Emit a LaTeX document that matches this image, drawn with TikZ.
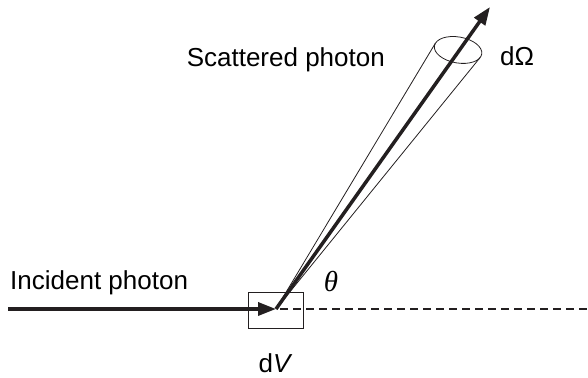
\documentclass[tikz,border=0pt]{standalone}
\usepackage{fontspec}
\setmainfont{Liberation Sans}
\newfontfamily\anglefont{Liberation Serif}
\usetikzlibrary{positioning,arrows.meta}
\definecolor{PhotonInk}{HTML}{231F20}

\begin{document}
\begin{tikzpicture}[x=1pt,y=1pt,font=\fontsize{26}{30}\selectfont,
    photon/.style={PhotonInk,line width=3.5pt,-{Triangle[length=18pt,width=13pt]}},
    thinline/.style={PhotonInk,line width=0.8pt}]
  \useasboundingbox (0,0) rectangle (588,377);
  \coordinate (start) at (8,68);
  \coordinate (vtx) at (276,68);
  \coordinate (far) at (588,68);
  \coordinate (tip) at (490,370);
  \coordinate (cc) at (458,327);
  \coordinate (cl) at (435.3,333.7);
  \coordinate (cr) at (480,319.3);
  \node[draw=PhotonInk,line width=0.8pt,minimum width=55pt,minimum height=36pt,inner sep=0pt] (vol) at (275.5,67) {};
  % incident beam and its continuation
  \draw[PhotonInk,line width=1.3pt,dash pattern=on 8pt off 5pt,shorten <=4pt] (vtx) -- (far);
  \draw[photon] (start) -- (vtx);
  % solid angle cone
  \draw[thinline] (cl) -- (vtx) -- (cr);
  \draw[thinline,rotate around={-10:(cc)}] (cc) ellipse [x radius=24, y radius=13];
  \draw[photon] (vtx) -- (tip);
  % labels
  \node[anchor=base east,inner sep=0pt] (scat) at (385,310) {Scattered photon};
  \node[anchor=base west,inner sep=0pt] (inc) at (10,87) {Incident photon};
  \node[inner sep=0pt,font=\fontsize{29}{32}\selectfont] (ang) at (331,95) {\anglefont\itshape θ};
  \node[anchor=base west,inner sep=0pt] (omega) at (500,311) {dΩ};
  \node[below=25pt of vol,inner sep=0pt] (dv) {d\textit{V}};
\end{tikzpicture}
\end{document}
